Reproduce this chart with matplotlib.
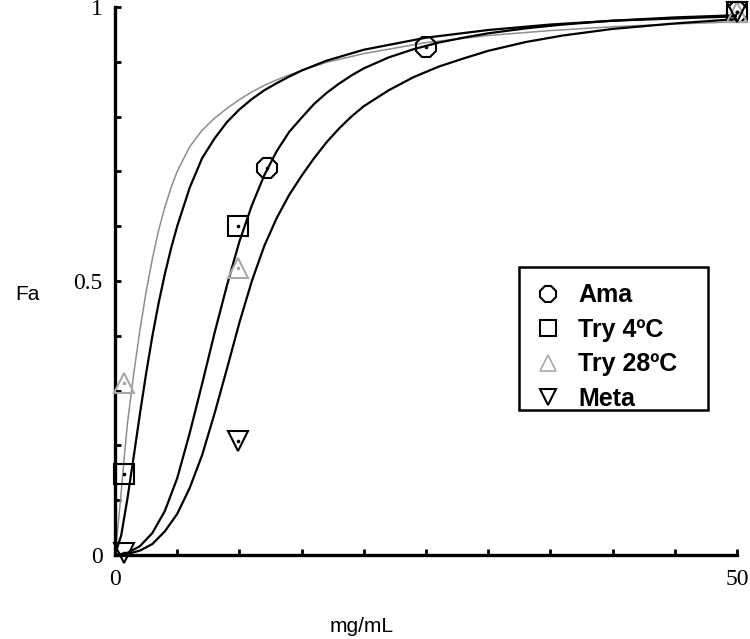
import matplotlib
matplotlib.use("Agg")
import matplotlib.pyplot as plt
from matplotlib.lines import Line2D
from matplotlib.patches import Rectangle

# ---- fitted curves ----
c_try28_x = [0, 0.25, 0.5, 0.75, 1, 1.5, 2, 2.5, 3, 3.5, 4, 4.5, 5, 6, 7, 8, 9, 10, 11, 12, 13, 14, 15, 17, 20, 25, 30, 35, 40, 45, 50]
c_try28_y = [0, 0.055, 0.115, 0.180, 0.240, 0.330, 0.410, 0.480, 0.540, 0.592, 0.634, 0.670, 0.700, 0.745, 0.775, 0.797, 0.815, 0.831, 0.845, 0.857, 0.867, 0.876, 0.884, 0.899, 0.915, 0.935, 0.948, 0.957, 0.964, 0.969, 0.973]

c_try4_x = [0, 0.5, 1, 1.5, 2, 2.5, 3, 3.5, 4, 4.5, 5, 6, 7, 8, 9, 10, 11, 12, 13, 14, 15, 17, 20, 25, 30, 35, 40, 45, 50]
c_try4_y = [0, 0.036, 0.103, 0.179, 0.257, 0.331, 0.399, 0.459, 0.512, 0.559, 0.600, 0.670, 0.724, 0.760, 0.790, 0.813, 0.832, 0.848, 0.861, 0.873, 0.884, 0.902, 0.922, 0.944, 0.958, 0.968, 0.975, 0.979, 0.983]

c_ama_x = [0, 1, 2, 3, 4, 5, 6, 7, 8, 9, 10, 11, 12, 13, 14, 15, 16, 17, 18, 19, 20, 22, 24, 26, 28, 30, 33, 36, 40, 45, 50]
c_ama_y = [0, 0.004, 0.016, 0.040, 0.080, 0.140, 0.222, 0.312, 0.405, 0.492, 0.572, 0.638, 0.693, 0.737, 0.772, 0.798, 0.823, 0.843, 0.860, 0.875, 0.888, 0.908, 0.923, 0.935, 0.944, 0.952, 0.961, 0.968, 0.975, 0.981, 0.985]

c_meta_x = [0, 1, 2, 3, 4, 5, 6, 7, 8, 9, 10, 11, 12, 13, 14, 15, 16, 17, 18, 19, 20, 22, 24, 26, 28, 30, 33, 36, 40, 45, 50]
c_meta_y = [0, 0.002, 0.008, 0.020, 0.043, 0.075, 0.122, 0.182, 0.258, 0.340, 0.424, 0.500, 0.564, 0.615, 0.657, 0.692, 0.724, 0.753, 0.778, 0.800, 0.819, 0.848, 0.872, 0.891, 0.906, 0.920, 0.936, 0.948, 0.960, 0.970, 0.978]

# ---- measured points ----
ama_x = [12.2, 25.0, 50]
ama_y = [0.706, 0.927, 0.99]
try4_x = [0.75, 9.9, 50]
try4_y = [0.147, 0.60, 0.99]
try28_x = [0.7, 9.9, 50]
try28_y = [0.314, 0.524, 0.99]
meta_x = [0.7, 9.9, 50]
meta_y = [0.003, 0.208, 0.99]

labels = ["Ama", "Try 4ºC", "Try 28ºC", "Meta"]
x_ticks = [0, 5, 10, 15, 20, 25, 30, 35, 40, 45, 50]
x_ticklabels = ["0", "", "", "", "", "", "", "", "", "", "50"]
y_ticks = [0, 0.1, 0.2, 0.3, 0.4, 0.5, 0.6, 0.7, 0.8, 0.9, 1.0]
y_ticklabels = ["0", "", "", "", "", "0.5", "", "", "", "", "1"]

GREY = "#8e8e8e"
LGREY = "#a8a8a8"

W, H = 750, 639
fig = plt.figure(figsize=(7.5, 6.39), dpi=100)
ax = fig.add_axes([115/W, 1-555/H, (737-115)/W, (555-7)/H])

lw = 1.6
ax.plot(c_try28_x, c_try28_y, color=GREY, lw=1.1, zorder=2)
ax.plot(c_try4_x, c_try4_y, color="black", lw=lw, zorder=2)
ax.plot(c_ama_x, c_ama_y, color="black", lw=lw, zorder=2)
ax.plot(c_meta_x, c_meta_y, color="black", lw=lw, zorder=2)

mk = dict(linestyle="none", markerfacecolor="none", markeredgewidth=1.5, clip_on=False, zorder=3)
ax.plot(ama_x, ama_y, marker="8", markersize=15, markeredgecolor="black", **mk)
ax.plot(try4_x, try4_y, marker="s", markersize=14, markeredgecolor="black", **mk)
ax.plot(try28_x, try28_y, marker="^", markersize=14, markeredgecolor=LGREY, **mk)
ax.plot(meta_x, meta_y, marker="v", markersize=14, markeredgecolor="black", **mk)
# centre dots
for xs, ys, c in [(ama_x, ama_y, "black"), (try4_x, try4_y, "black"),
                  (try28_x, try28_y, LGREY), (meta_x, meta_y, "black")]:
    ax.plot(xs, ys, linestyle="none", marker="o", markersize=1.6, color=c, clip_on=False, zorder=4)

ax.set_xlim(0, 50)
ax.set_ylim(0, 1)
for s in ["top", "right"]:
    ax.spines[s].set_visible(False)
for s in ["left", "bottom"]:
    ax.spines[s].set_linewidth(2.4)

ax.set_xticks(x_ticks)
ax.set_xticklabels(x_ticklabels)
ax.set_yticks(y_ticks)
ax.set_yticklabels(y_ticklabels)
ax.tick_params(direction="in", length=4, width=2.0, labelsize=17)
ax.tick_params(axis="y", pad=9)
ax.tick_params(axis="x", pad=10)
for t in ax.get_xticklabels() + ax.get_yticklabels():
    t.set_family("Liberation Serif")

fig.text(27/W, 1-295/H, "Fa", ha="center", va="center", fontsize=15, family="Liberation Sans")
fig.text(362/W, 1-627/H, "mg/mL", ha="center", va="center", fontsize=15, family="Liberation Sans")

handles = [
    Line2D([], [], linestyle="none", marker="8", markersize=13, markerfacecolor="none", markeredgecolor="black", markeredgewidth=1.5),
    Line2D([], [], linestyle="none", marker="s", markersize=12, markerfacecolor="none", markeredgecolor="black", markeredgewidth=1.5),
    Line2D([], [], linestyle="none", marker="^", markersize=12, markerfacecolor="none", markeredgecolor=LGREY, markeredgewidth=1.2),
    Line2D([], [], linestyle="none", marker="v", markersize=12, markerfacecolor="none", markeredgecolor="black", markeredgewidth=1.5),
]
leg = ax.legend(handles, labels, loc="upper left",
                bbox_to_anchor=((519-115)/622, (555-271)/548),
                frameon=False, borderpad=0.5, labelspacing=0.42,
                handlelength=1.34, handletextpad=0.52, borderaxespad=0,
                prop={"family": "Liberation Sans", "weight": "bold", "size": 18})

# legend box
fig.add_artist(Rectangle((519/W, 1-410/H), (708-519)/W, (410-267)/H,
                         transform=fig.transFigure, fill=False,
                         edgecolor="black", linewidth=1.8, zorder=5))

fig.savefig("out.png", dpi=100)
